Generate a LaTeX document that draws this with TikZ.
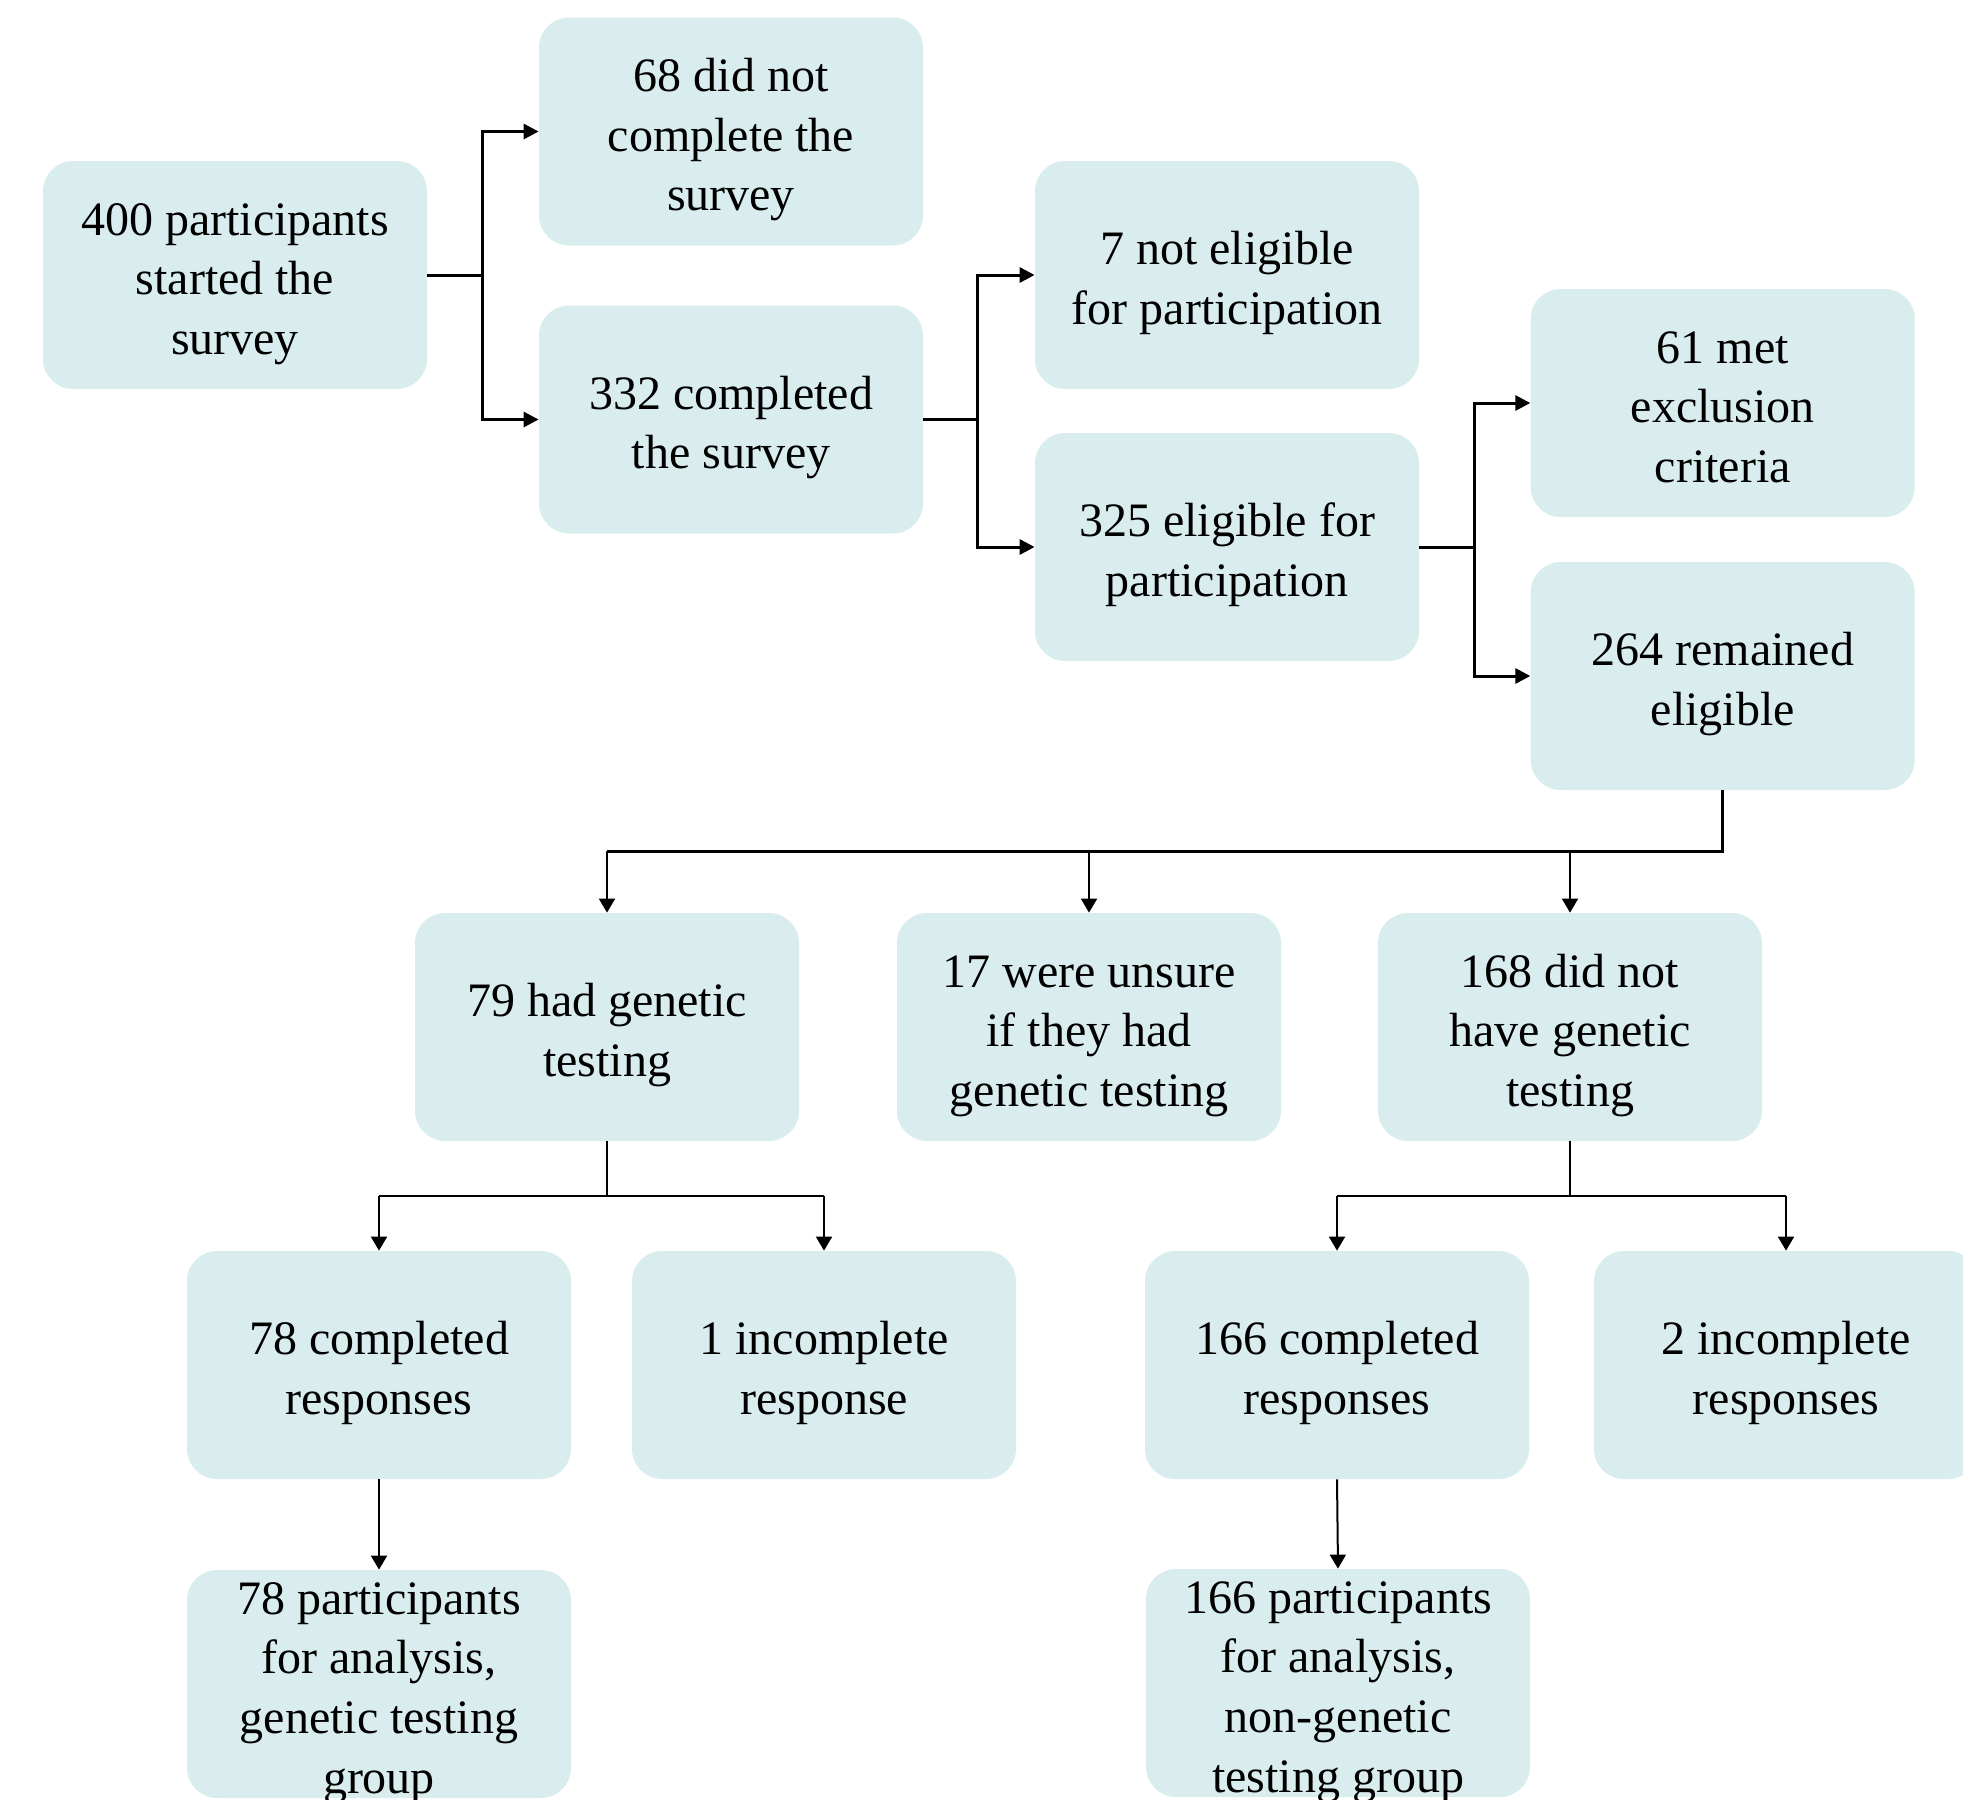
\documentclass[tikz,border=0pt]{standalone}
\usepackage{fontspec}
\setmainfont{Liberation Serif}
\usetikzlibrary{arrows.meta}
\definecolor{boxfill}{RGB}{218,237,238}
\newcommand\fbtop{\rule{0pt}{25pt}}
\newcommand\fbbot{\rule[-5.4pt]{0pt}{0pt}}
\tikzset{
  fbox/.style={fill=boxfill, draw=none, rounded corners=15pt, minimum width=192pt, minimum height=114pt, inner xsep=0pt, inner ysep=-10pt, align=center, font=\fontsize{24pt}{29.8pt}\selectfont},
  thickline/.style={line width=1.5pt},
  thinline/.style={line width=1pt},
  tarr/.style={-{Triangle[length=7.5pt,width=7.5pt]}},
  sarr/.style={-{Triangle[length=7pt,width=8pt]}}
}
\begin{document}
\begin{tikzpicture}[x=0.5pt,y=-0.5pt]
\useasboundingbox (0,0) rectangle (1963,1799);
\node[fbox] (A) at (235,275) {\fbtop 400 participants\\started the\\survey\fbbot};
\node[fbox] (B) at (731,131.5) {\fbtop 68 did not\\complete the\\survey\fbbot};
\node[fbox] (C) at (731,419.5) {\fbtop 332 completed\\the survey\fbbot};
\node[fbox] (D) at (1227,275) {\fbtop 7 not eligible\\for participation\fbbot};
\node[fbox] (E) at (1227,547) {\fbtop 325 eligible for\\participation\fbbot};
\node[fbox] (F) at (1722.7,403) {\fbtop 61 met\\exclusion\\criteria\fbbot};
\node[fbox] (G) at (1722.7,676) {\fbtop 264 remained\\eligible\fbbot};
\node[fbox] (H) at (607,1027) {\fbtop 79 had genetic\\testing\fbbot};
\node[fbox] (I) at (1089,1027) {\fbtop 17 were unsure\\if they had\\genetic testing\fbbot};
\node[fbox] (J) at (1570,1027) {\fbtop 168 did not\\have genetic\\testing\fbbot};
\node[fbox] (K) at (379,1365) {\fbtop 78 completed\\responses\fbbot};
\node[fbox] (L) at (824,1365) {\fbtop 1 incomplete\\response\fbbot};
\node[fbox] (M) at (1337,1365) {\fbtop 166 completed\\responses\fbbot};
\node[fbox] (N) at (1786,1365) {\fbtop 2 incomplete\\responses\fbbot};
\node[fbox] (O) at (379,1684) {\fbtop 78 participants\\for analysis,\\genetic testing\\group\fbbot};
\node[fbox] (P) at (1338,1683) {\fbtop 166 participants\\for analysis,\\non-genetic\\testing group\fbbot};
% junctions
\coordinate (j1) at (482.7,275);
\coordinate (j2) at (977.7,419.5);
\coordinate (j3) at (1474.7,547);
\coordinate (j4) at (1722.7,851);
\coordinate (j5) at (607,1195.6);
\coordinate (j6) at (1570,1195.6);
\coordinate (h4) at (H.north |- j4);
\coordinate (i4) at (I.north |- j4);
\coordinate (k5) at (K.north |- j5);
\coordinate (l5) at (L.north |- j5);
\coordinate (m6) at (M.north |- j6);
\coordinate (n6) at (N.north |- j6);
% top connectors
\draw[thickline] (A.east) -- (j1);
\draw[thickline,tarr] (j1) |- (B.west);
\draw[thickline,tarr] (j1) |- (C.west);
\draw[thickline] (C.east) -- (j2);
\draw[thickline,tarr] (j2) |- (D.west);
\draw[thickline,tarr] (j2) |- (E.west);
\draw[thickline] (E.east) -- (j3);
\draw[thickline,tarr] (j3) |- (F.west);
\draw[thickline,tarr] (j3) |- (G.west);
% G down
\draw[thickline] (G.south) -- (j4) -- (h4);
\draw[thinline,sarr] (h4) -- (H.north);
\draw[thinline,sarr] (i4) -- (I.north);
\draw[thinline,sarr] (J.north |- j4) -- (J.north);
% H branch
\draw[thinline] (H.south) -- (j5);
\draw[thinline] (k5) -- (l5);
\draw[thinline,sarr] (k5) -- (K.north);
\draw[thinline,sarr] (l5) -- (L.north);
% J branch
\draw[thinline] (J.south) -- (j6);
\draw[thinline] (m6) -- (n6);
\draw[thinline,sarr] (m6) -- (M.north);
\draw[thinline,sarr] (n6) -- (N.north);
% final
\draw[thinline,sarr] (K.south) -- (O.north);
\draw[thinline,sarr] (M.south) -- (P.north);
\end{tikzpicture}
\end{document}
